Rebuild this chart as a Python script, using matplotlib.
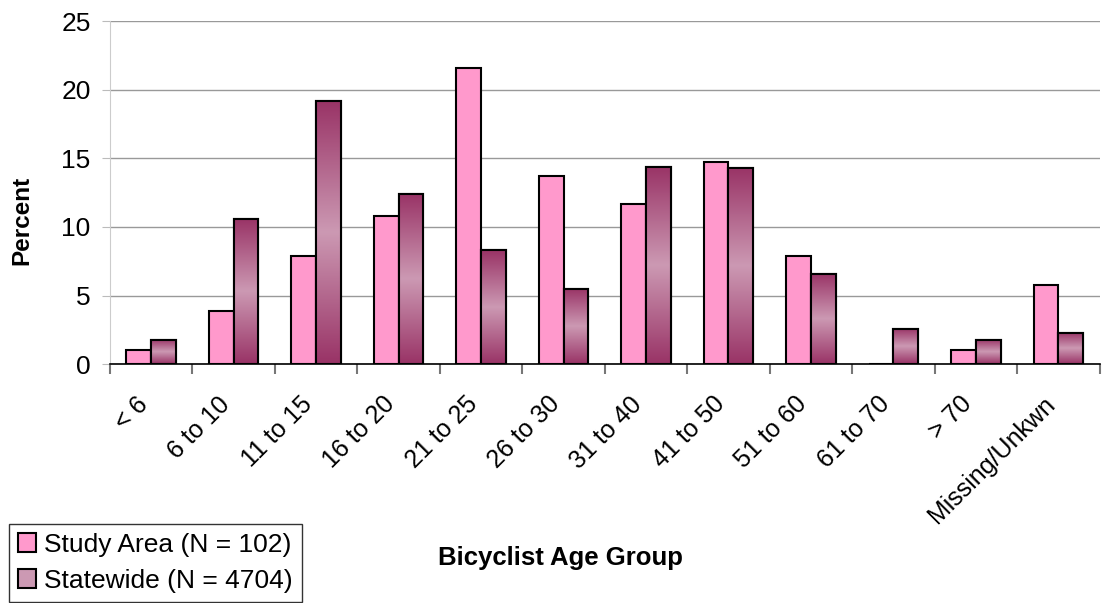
import numpy as np
import matplotlib
matplotlib.use('Agg')
import matplotlib.pyplot as plt
import matplotlib.transforms as mtransforms
from matplotlib.colors import LinearSegmentedColormap

plt.rcParams['font.family'] = ['Liberation Sans', 'DejaVu Sans']

# Bicyclist age groups and share of crashes (percent)
age_groups = ["< 6", "6 to 10", "11 to 15", "16 to 20", "21 to 25", "26 to 30",
              "31 to 40", "41 to 50", "51 to 60", "61 to 70", "> 70", "Missing/Unkwn"]
study_area = [1.0, 3.9, 7.9, 10.8, 21.6, 13.7, 11.7, 14.7, 7.9, 0.0, 1.0, 5.8]
statewide = [1.75, 10.6, 19.2, 12.4, 8.3, 5.5, 14.4, 14.3, 6.6, 2.6, 1.75, 2.3]

pink = "#ff99cc"
dark = "#993366"
light = "#cc99b3"
grad = LinearSegmentedColormap.from_list("bar_grad", [dark, light, dark])

fig = plt.figure(figsize=(11.02, 6.03), dpi=100)
ax = fig.add_axes([0.0998, 0.396, 0.898, 0.569])

x = np.arange(len(age_groups))
w = 0.3
b1 = ax.bar(x - w / 2, study_area, w, color=pink, edgecolor="black", linewidth=1.5,
            label="Study Area (N = 102)", zorder=3)
b2 = ax.bar(x + w / 2, statewide, w, color=light, edgecolor="black", linewidth=1.5,
            label="Statewide (N = 4704)", zorder=3)

# vertical gradient fill for the statewide bars
g = np.linspace(0, 1, 256).reshape(-1, 1)
for rect in b2:
    h = rect.get_height()
    if h <= 0:
        continue
    x0 = rect.get_x()
    im = ax.imshow(g, cmap=grad, aspect="auto", extent=[x0, x0 + w, 0, h],
                   origin="lower", zorder=3.5, interpolation="bilinear")
    im.set_clip_path(rect)
    edge = plt.Rectangle((x0, 0), w, h, fill=False, edgecolor="black",
                         linewidth=1.5, zorder=4)
    ax.add_patch(edge)

ax.set_xlim(-0.5, len(age_groups) - 0.5)
ax.set_ylim(0, 25)
ax.set_yticks(range(0, 26, 5))
ax.yaxis.grid(True, color="#999999", linewidth=1, zorder=0)

ax.set_xticks(x)
ax.set_xticklabels(age_groups, rotation=45, ha="right", rotation_mode="anchor",
                   fontsize=18)
ax.set_xticks(np.arange(-0.5, len(age_groups), 1), minor=True)
ax.tick_params(axis="x", which="major", length=0, pad=20)
ax.tick_params(axis="x", which="minor", length=7, color="#777777", width=1.5, direction="out")
ax.tick_params(axis="y", labelsize=19, length=6, color="#bbbbbb", pad=8)

# nudge the slanted category labels to the left of their ticks
shift = mtransforms.ScaledTranslation(-16 / 100, 0, fig.dpi_scale_trans)
for lbl in ax.get_xticklabels():
    lbl.set_transform(lbl.get_transform() + shift)

for side in ["top", "right"]:
    ax.spines[side].set_visible(False)
ax.spines["left"].set_color("#cccccc")
ax.spines["bottom"].set_color("black")
ax.spines["bottom"].set_linewidth(1.2)

fig.text(0.020, 0.635, "Percent", rotation=90, fontsize=17.5, fontweight="bold",
         ha="center", va="center")
fig.text(0.509, 0.075, "Bicyclist Age Group", fontsize=18.5, fontweight="bold",
         ha="center", va="center")

leg = fig.legend(handles=[b1, b2], loc="lower left", bbox_to_anchor=(-0.004, -0.02),
                 fontsize=19, frameon=True, fancybox=False, handlelength=0.7,
                 handleheight=0.7, handletextpad=0.3, borderpad=0.35, labelspacing=0.45)
leg.get_frame().set_edgecolor("black")
leg.get_frame().set_linewidth(1)

fig.savefig("out.png", dpi=100)
